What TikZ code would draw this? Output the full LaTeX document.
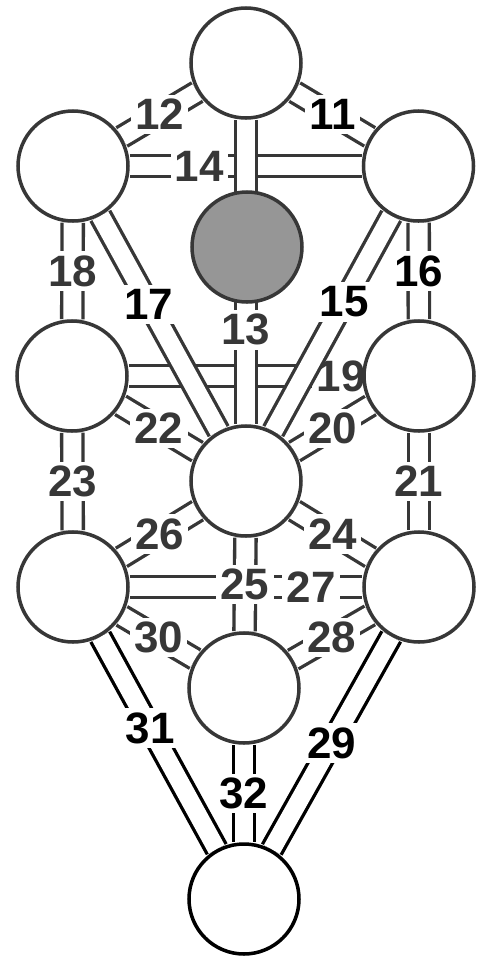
\documentclass[tikz,border=0pt]{standalone}
\usepackage{fontspec}
\setmainfont{Liberation Sans}
\usepackage{tikz}
\usetikzlibrary{backgrounds}
\definecolor{InkGray}{RGB}{55,55,55}
\definecolor{DaathGray}{RGB}{150,150,150}

\begin{document}
\begin{tikzpicture}[
    sf/.style={circle,draw=InkGray,fill=white,line width=2pt,
               minimum size=2.2cm,inner sep=0pt},
    pth/.style={draw=InkGray,line width=1.9pt,double=white,double distance=0.36cm},
    lbl/.style={fill=white,inner sep=2.5pt,text=InkGray,
                font=\fontsize{25}{25}\selectfont\bfseries},
    blk/.style={text=black}
  ]
    \useasboundingbox (0,0) rectangle (9.56,-19.16);
    % sephiroth
    \node[sf] (kether) at (4.92,-1.26) {};
    \node[sf] (chokmah) at (8.37,-3.32) {};
    \node[sf] (binah) at (1.46,-3.32) {};
    \node[sf,fill=DaathGray] (daath) at (4.94,-4.94) {};
    \node[sf] (chesed) at (8.38,-7.52) {};
    \node[sf] (geburah) at (1.44,-7.52) {};
    \node[sf] (tiphareth) at (4.92,-9.62) {};
    \node[sf] (netzach) at (8.38,-11.74) {};
    \node[sf] (hod) at (1.46,-11.74) {};
    \node[sf] (yesod) at (4.88,-13.76) {};
    \node[sf,draw=black] (malkuth) at (4.88,-17.98) {};
    % paths
    \begin{scope}[on background layer]
      \draw[pth] (kether)--node[lbl,blk]{11}(chokmah);
      \draw[pth] (kether)--node[lbl]{12}(binah);
      \draw[pth] (binah)--node[lbl,pos=0.30]{14}(chokmah);
      \draw[pth] (geburah)--node[lbl,pos=0.91]{19}(chesed);
      \draw[pth] (kether)--node[lbl,pos=0.69]{13}(tiphareth);
      \draw[pth] (chokmah)--node[lbl,blk,pos=0.40]{15}(tiphareth);
      \draw[pth] (chokmah)--node[lbl,blk]{16}(chesed);
      \draw[pth] (binah)--node[lbl,blk,pos=0.41]{17}(tiphareth);
      \draw[pth] (binah)--node[lbl]{18}(geburah);
      \draw[pth] (chesed)--node[lbl]{20}(tiphareth);
      \draw[pth] (chesed)--node[lbl]{21}(netzach);
      \draw[pth] (geburah)--node[lbl]{22}(tiphareth);
      \draw[pth] (geburah)--node[lbl]{23}(hod);
      \draw[pth] (tiphareth)--node[lbl]{24}(netzach);
      \draw[pth] (tiphareth)--node[lbl]{26}(hod);
      \draw[pth] (hod)--node[lbl,pos=0.78]{27}(netzach);
      \draw[pth] (tiphareth)--node[lbl]{25}(yesod);
      \draw[pth] (netzach)--node[lbl]{28}(yesod);
      \draw[pth] (hod)--node[lbl]{30}(yesod);
      \draw[pth,draw=black] (netzach)--node[lbl,blk]{29}(malkuth);
      \draw[pth,draw=black] (hod)--node[lbl,blk,pos=0.43]{31}(malkuth);
      \draw[pth,draw=black] (yesod)--node[lbl,blk]{32}(malkuth);
    \end{scope}
\end{tikzpicture}
\end{document}
